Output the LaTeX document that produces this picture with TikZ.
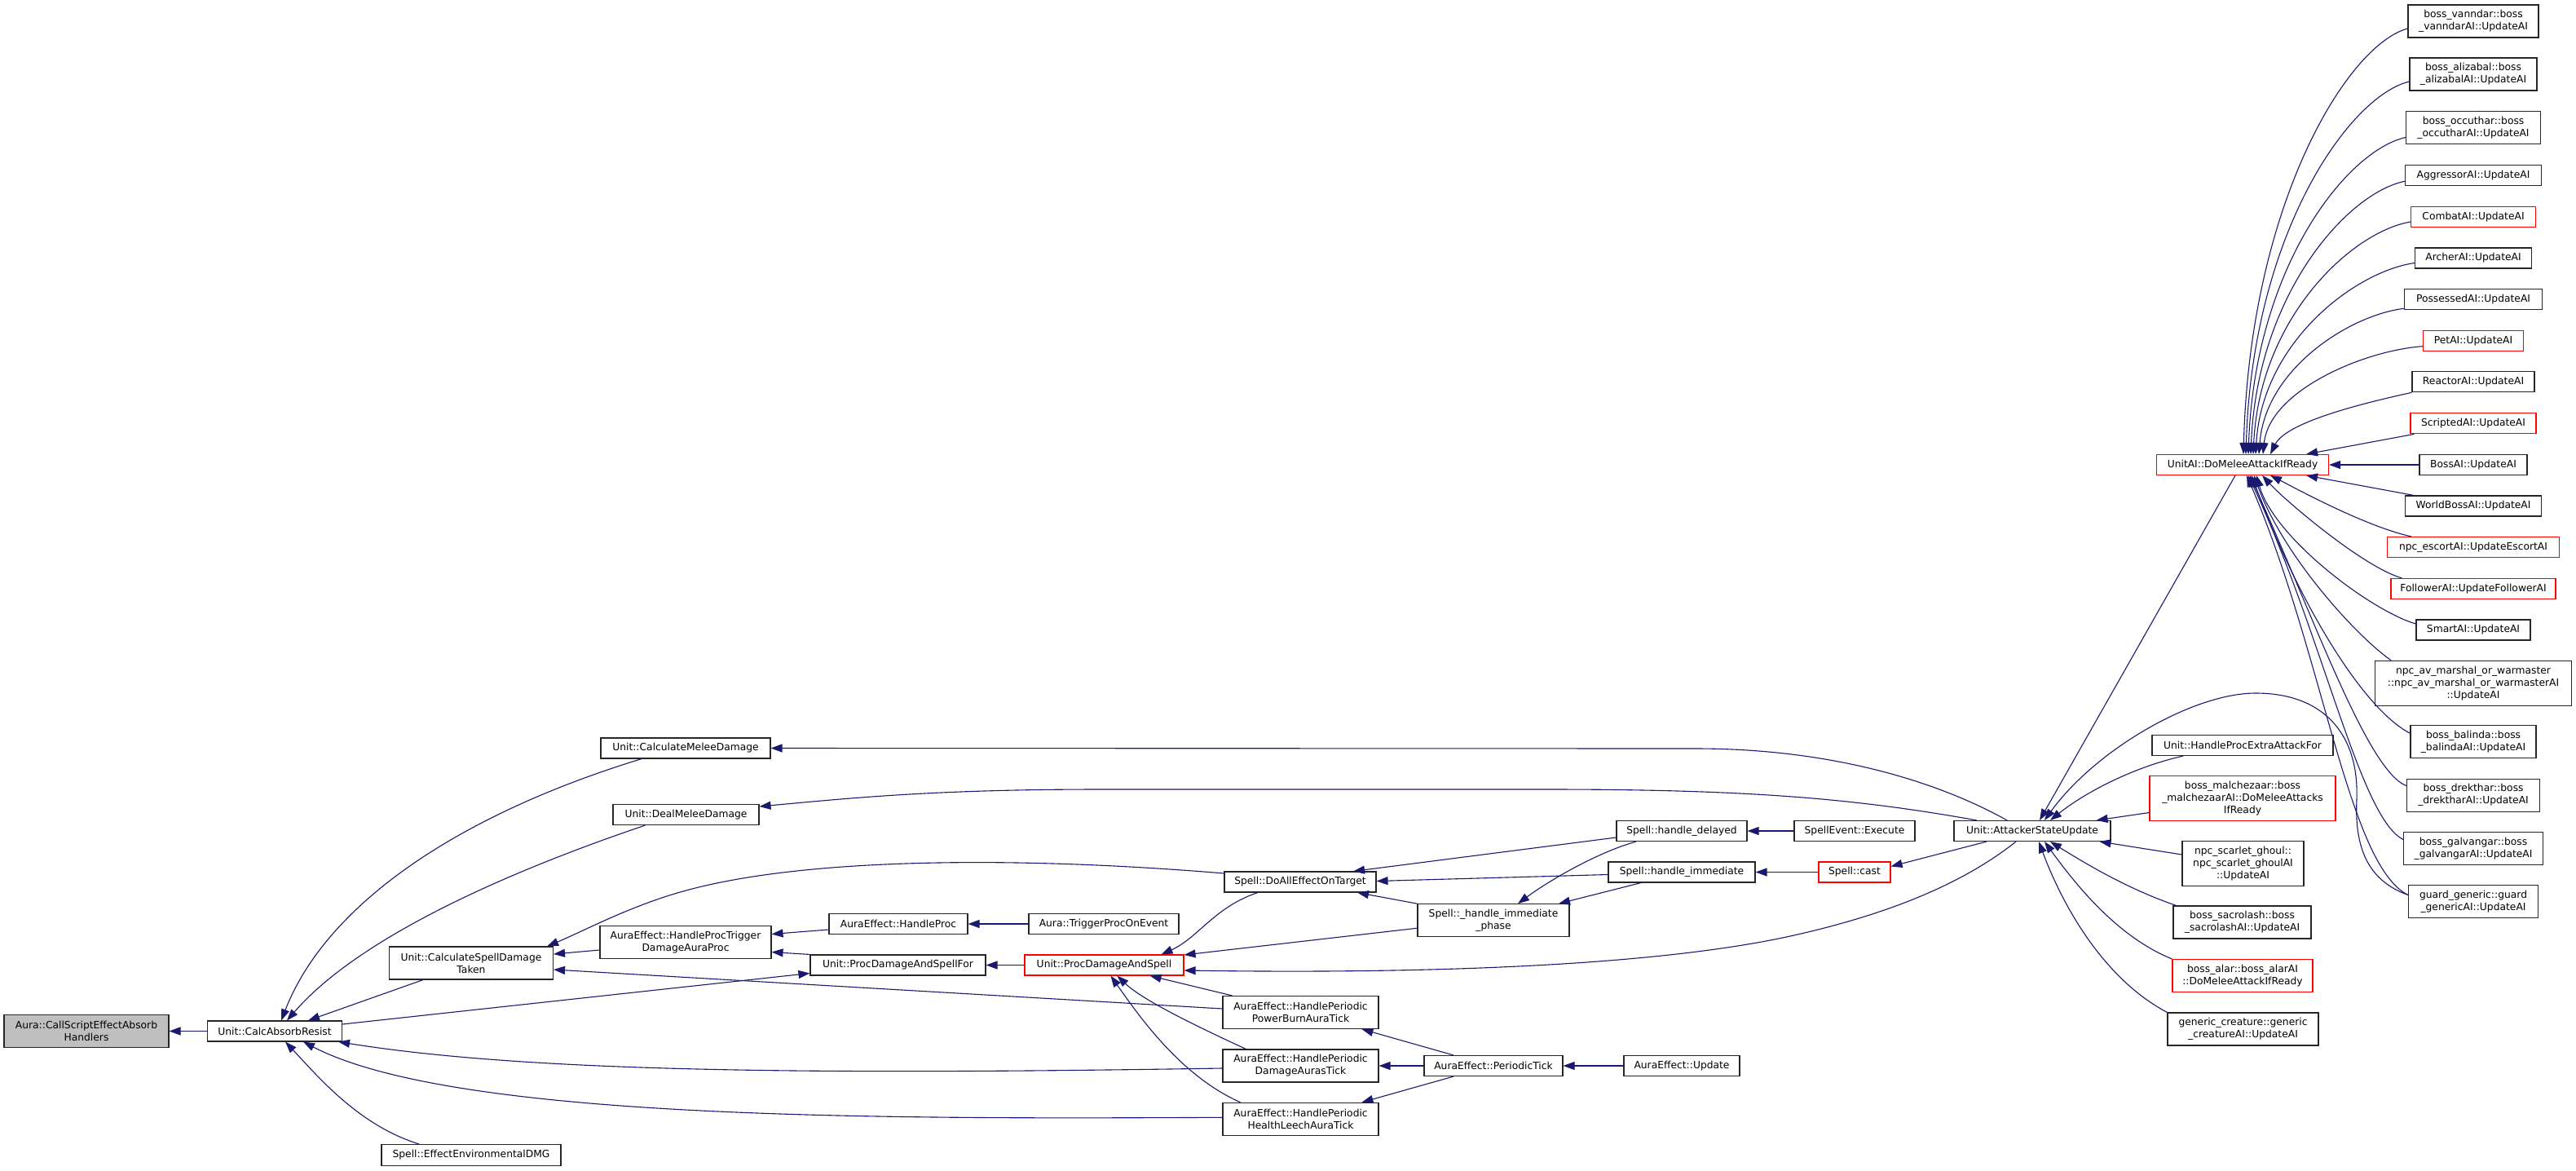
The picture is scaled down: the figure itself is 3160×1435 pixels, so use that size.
\documentclass[tikz,border=0pt]{standalone}
\usepackage{fontspec}
\setmainfont{DejaVu Sans}
\usetikzlibrary{arrows.meta}
\definecolor{edgeblue}{HTML}{191970}
\definecolor{rootgray}{HTML}{BFBFBF}
\definecolor{boxline}{HTML}{262626}
\tikzset{
  box/.style={draw=boxline, line width=1.1pt, fill=white, inner sep=0pt, align=center, font=\fontsize{12.3}{15}\selectfont},
  redbox/.style={box, draw=red},
  sz/.style 2 args={minimum width=#1, minimum height=#2},
  edge/.style={draw=edgeblue, line width=1.1pt, -{Triangle[length=14pt,width=10pt]}},
}
\begin{document}
\begin{tikzpicture}[x=1pt,y=-1pt]
\useasboundingbox (0,0) rectangle (3160,1435);
\fill[white] (0,0) rectangle (3160,1435);

% ---------- nodes ----------
\node[box, sz={202}{40}, fill=rootgray] (aura) at (106,1264.5) {Aura::CallScriptEffectAbsorb\\Handlers};
\node[box, sz={165}{25}] (calc) at (337,1264.5) {Unit::CalcAbsorbResist};
\node[box, sz={208}{25}] (cmd) at (841,917.5) {Unit::CalculateMeleeDamage};
\node[box, sz={179}{25}] (dmd) at (841.5,999) {Unit::DealMeleeDamage};
\node[box, sz={201}{40}] (csdt) at (578,1181) {Unit::CalculateSpellDamage\\Taken};
\node[box, sz={220}{26}] (env) at (578,1416.5) {Spell::EffectEnvironmentalDMG};
\node[box, sz={210}{40}] (hptd) at (841,1155.5) {AuraEffect::HandleProcTrigger\\DamageAuraProc};
\node[box, sz={170}{25}] (hproc) at (1102,1133) {AuraEffect::HandleProc};
\node[box, sz={184}{25}] (tpoe) at (1354,1133) {Aura::TriggerProcOnEvent};
\node[box, sz={215}{25}] (pdsf) at (1101.5,1183.5) {Unit::ProcDamageAndSpellFor};
\node[redbox, sz={195}{25}] (pds) at (1354.5,1183.5) {Unit::ProcDamageAndSpell};
\node[box, sz={186}{25}] (daeot) at (1595,1081.5) {Spell::DoAllEffectOnTarget};
\node[box, sz={160}{25}] (hdel) at (2063,1019) {Spell::handle\_delayed};
\node[box, sz={148}{25}] (see) at (2275,1019) {SpellEvent::Execute};
\node[box, sz={180}{25}] (himm) at (2063,1069.5) {Spell::handle\_immediate};
\node[redbox, sz={88}{25}] (cast) at (2275,1069.5) {Spell::cast};
\node[box, sz={186}{40}] (hip) at (1832,1128.7) {Spell::\_handle\_immediate\\\_phase};
\node[box, sz={191}{40}] (pbat) at (1595.5,1241.5) {AuraEffect::HandlePeriodic\\PowerBurnAuraTick};
\node[box, sz={191}{40}] (dat) at (1595.5,1307) {AuraEffect::HandlePeriodic\\DamageAurasTick};
\node[box, sz={191}{40}] (hlat) at (1595.5,1372.3) {AuraEffect::HandlePeriodic\\HealthLeechAuraTick};
\node[box, sz={170}{25}] (ptick) at (1832,1307) {AuraEffect::PeriodicTick};
\node[box, sz={142}{25}] (aeupd) at (2063,1307) {AuraEffect::Update};
\node[box, sz={192}{25}] (asu) at (2493,1019) {Unit::AttackerStateUpdate};
\node[box, sz={222}{25}] (hpeaf) at (2751,914) {Unit::HandleProcExtraAttackFor};
\node[redbox, sz={228}{55}] (malch) at (2751,979) {boss\_malchezaar::boss\\\_malchezaarAI::DoMeleeAttacks\\IfReady};
\node[box, sz={149}{55}] (scarlet) at (2751.5,1059) {npc\_scarlet\_ghoul::\\npc\_scarlet\_ghoulAI\\::UpdateAI};
\node[box, sz={169}{40}] (sacro) at (2750.5,1131) {boss\_sacrolash::boss\\\_sacrolashAI::UpdateAI};
\node[redbox, sz={172}{40}] (alar) at (2751,1196.5) {boss\_alar::boss\_alarAI\\::DoMeleeAttackIfReady};
\node[box, sz={185}{40}] (gencr) at (2751.5,1262) {generic\_creature::generic\\\_creatureAI::UpdateAI};
\node[redbox, sz={211}{25}] (dmaiir) at (2751,570) {UnitAI::DoMeleeAttackIfReady};

\node[box, sz={160}{40}] (vanndar) at (3034,26) {boss\_vanndar::boss\\\_vanndarAI::UpdateAI};
\node[box, sz={156}{40}] (alizabal) at (3034,91) {boss\_alizabal::boss\\\_alizabalAI::UpdateAI};
\node[box, sz={165}{40}] (occuthar) at (3034,156.5) {boss\_occuthar::boss\\\_occutharAI::UpdateAI};
\node[box, sz={167}{25}] (aggr) at (3034,215.3) {AggressorAI::UpdateAI};
\node[redbox, sz={152.5}{25}] (combat) at (3034,266) {CombatAI::UpdateAI};
\node[box, sz={143}{25}] (archer) at (3034,316.5) {ArcherAI::UpdateAI};
\node[box, sz={169}{25}] (possessed) at (3034,367.3) {PossessedAI::UpdateAI};
\node[redbox, sz={123}{25}] (pet) at (3034,417.7) {PetAI::UpdateAI};
\node[box, sz={150}{25}] (reactor) at (3034,468.3) {ReactorAI::UpdateAI};
\node[redbox, sz={154}{25}] (scripted) at (3034,519.3) {ScriptedAI::UpdateAI};
\node[box, sz={132}{25}] (bossai) at (3034,570) {BossAI::UpdateAI};
\node[box, sz={167}{25}] (worldboss) at (3034,620.5) {WorldBossAI::UpdateAI};
\node[redbox, sz={211}{25}] (escort) at (3034,671) {npc\_escortAI::UpdateEscortAI};
\node[redbox, sz={202}{25}] (follower) at (3034,722) {FollowerAI::UpdateFollowerAI};
\node[box, sz={140}{25}] (smart) at (3034,772.5) {SmartAI::UpdateAI};
\node[box, sz={241}{55}] (marshal) at (3034,837.7) {npc\_av\_marshal\_or\_warmaster\\::npc\_av\_marshal\_or\_warmasterAI\\::UpdateAI};
\node[box, sz={154}{40}] (balinda) at (3034,909.7) {boss\_balinda::boss\\\_balindaAI::UpdateAI};
\node[box, sz={163}{40}] (drekthar) at (3034,975.2) {boss\_drekthar::boss\\\_drektharAI::UpdateAI};
\node[box, sz={171}{40}] (galvangar) at (3034,1040.7) {boss\_galvangar::boss\\\_galvangarAI::UpdateAI};
\node[box, sz={159}{40}] (guard) at (3034,1105.9) {guard\_generic::guard\\\_genericAI::UpdateAI};

% ---------- edges (tail at caller, head at callee) ----------
\draw[edge] (calc.west) -- (aura.east);
\draw[edge] ([xshift=-54]cmd.south) .. controls (560,1000) and (400,1110) .. ([xshift=8]calc.north);
\draw[edge] ([xshift=-50]dmd.south) .. controls (620,1070) and (440,1150) .. ([xshift=15]calc.north);
\draw[edge] ([xshift=-59]csdt.south) -- ([xshift=41]calc.north);
\draw[edge] ([yshift=-3]dat.west) .. controls (1000,1318) and (650,1315) .. ([xshift=-5]calc.south east);
\draw[edge] ([yshift=2]hlat.west) .. controls (1100,1372) and (560,1375) .. ([xshift=35]calc.south);
\draw[edge] ([xshift=-64]env.north) .. controls (440,1380) and (390,1320) .. ([xshift=13]calc.south);
\draw[edge] ([yshift=8.5]calc.east) -- ([yshift=-10]pdsf.west);

\draw[edge] ([yshift=10.5]daeot.west) .. controls (1250,1050) and (1000,1052) .. (853,1089)
   .. controls (780,1107) and (720,1140) .. ([xshift=-8]csdt.north east);
\draw[edge] ([yshift=-9.5]hptd.west) -- ([yshift=11]csdt.east);
\draw[edge] ([yshift=4.5]pbat.west) -- ([yshift=-8]csdt.east);
\draw[edge] ([yshift=-7]hproc.west) -- ([yshift=10]hptd.east);
\draw[edge] (tpoe.west) -- (hproc.east);
\draw[edge] (pdsf.north west) -- ([yshift=-12]hptd.east);
\draw[edge] (pds.west) -- (pdsf.east);

\draw[edge] ([xshift=-52]daeot.south) .. controls (1490,1112) and (1470,1150) .. ([xshift=70]pds.north);
\draw[edge] ([yshift=-9.5]hip.west) -- ([yshift=12.5]pds.east);
\draw[edge] ([xshift=-20]asu.south) .. controls (2400,1090) and (2300,1125) .. (2196,1148)
   .. controls (2050,1180) and (1800,1195) .. ([yshift=-6.5]pds.east);
\draw[edge] ([xshift=-84]pbat.north) -- ([xshift=-42]pds.south east);
\draw[edge] ([xshift=-67]dat.north) .. controls (1460,1255) and (1400,1225) .. ([xshift=16]pds.south);
\draw[edge] ([xshift=-74]hlat.north) .. controls (1450,1320) and (1400,1250) .. ([xshift=8]pds.south);

\draw[edge] ([yshift=-8]hdel.west) -- ([xshift=65]daeot.north);
\draw[edge] ([yshift=-3]himm.west) -- ([yshift=1]daeot.east);
\draw[edge] (hip.north west) -- ([xshift=70]daeot.south);
\draw[edge] (see.west) -- (hdel.east);
\draw[edge] (cast.west) -- (himm.east);
\draw[edge] ([xshift=-56]asu.south) -- ([yshift=7]cast.east);
\draw[edge] ([xshift=-56]hdel.south) .. controls (1960,1045) and (1900,1080) .. ([xshift=30]hip.north);
\draw[edge] ([xshift=-50]himm.south) -- ([xshift=80]hip.north);
\draw[edge] ([xshift=-49]ptick.north) -- ([xshift=75]pbat.south);
\draw[edge] (ptick.west) -- (dat.east);
\draw[edge] ([xshift=-49]ptick.south) -- ([xshift=75]hlat.north);
\draw[edge] (aeupd.west) -- (ptick.east);

\draw[edge] ([xshift=-31]asu.north) .. controls (2380,960) and (2250,918) .. (2080,918) -- (cmd.east);
\draw[edge] ([xshift=-68]asu.north) .. controls (2280,980) and (2150,968) .. (1900,968) -- (1350,968)
   .. controls (1150,968) and (1050,978) .. ([yshift=10]dmd.east);

\draw[edge] ([xshift=-9]dmaiir.south) -- ([xshift=9]asu.north);
\draw[edge] ([xshift=-73]hpeaf.south) .. controls (2620,940) and (2560,970) .. ([xshift=22]asu.north);
\draw[edge] ([yshift=8.4]guard.west) .. controls (2905,1080) and (2888,1040) .. (2891,980)
   .. controls (2894,900) and (2850,850) .. (2767,850)
   .. controls (2690,850) and (2570,920) .. ([xshift=15]asu.north);
\draw[edge] ([yshift=-17.5]malch.west) -- ([xshift=-18]asu.north east);
\draw[edge] ([yshift=11]scarlet.west) -- ([xshift=-14]asu.south east);
\draw[edge] ([xshift=4]sacro.north west) .. controls (2610,1090) and (2560,1060) .. ([xshift=22]asu.south);
\draw[edge] (alar.north west) .. controls (2600,1150) and (2550,1090) .. ([xshift=15]asu.south);
\draw[edge] (gencr.north west) .. controls (2580,1200) and (2530,1110) .. ([xshift=8]asu.south);

% fan-in to UnitAI::DoMeleeAttackIfReady
\draw[edge] ([yshift=-9]vanndar.west) .. controls +(-74,20) and +(8,-307) .. ([xshift=1]dmaiir.north);
\draw[edge] ([yshift=-9]alizabal.west) .. controls +(-74,18) and +(8,-270) .. ([xshift=4]dmaiir.north);
\draw[edge] ([yshift=-12]occuthar.west) .. controls +(-72,16) and +(8,-230) .. ([xshift=7]dmaiir.north);
\draw[edge] ([yshift=-7]aggr.west) .. controls +(-70,14) and +(8,-197) .. ([xshift=10]dmaiir.north);
\draw[edge] ([yshift=-6]combat.west) .. controls +(-72,12) and +(8,-168) .. ([xshift=13]dmaiir.north);
\draw[edge] ([yshift=-6]archer.west) .. controls +(-72,10) and +(8,-138) .. ([xshift=16]dmaiir.north);
\draw[edge] ([yshift=-11]possessed.west) .. controls +(-66,8) and +(8,-105) .. ([xshift=20]dmaiir.north);
\draw[edge] ([yshift=-7]pet.west) .. controls +(-72,5) and +(8,-78) .. ([xshift=25]dmaiir.north);
\draw[edge] (reactor.south west) .. controls +(-55,12) and +(20,-40) .. ([xshift=34]dmaiir.north);
\draw[edge] ([xshift=5]scripted.south west) -- ([xshift=-28]dmaiir.north east);
\draw[edge] (bossai.west) -- (dmaiir.east);
\draw[edge] ([xshift=11]worldboss.north west) -- ([xshift=-28]dmaiir.south east);
\draw[edge] ([xshift=30]escort.north west) .. controls +(-58,-12.7) and +(25,12.5) .. ([xshift=34]dmaiir.south);
\draw[edge] ([xshift=14]follower.north west) .. controls +(-46.7,-13.3) and +(30,32.5) .. ([xshift=24]dmaiir.south);
\draw[edge] ([yshift=7.5]smart.west) .. controls +(-53,-15) and +(22,77.5) .. ([xshift=17]dmaiir.south);
\draw[edge] ([xshift=20]marshal.north west) .. controls +(-43,-30) and +(35,97.5) .. ([xshift=14]dmaiir.south);
\draw[edge] ([yshift=10.5]balinda.west) .. controls +(-57,-29) and +(58,157.5) .. ([xshift=11]dmaiir.south);
\draw[edge] ([yshift=11.5]drekthar.west) .. controls +(-48,-19) and +(80,177.5) .. ([xshift=9]dmaiir.south);
\draw[edge] ([yshift=11.3]galvangar.west) .. controls +(-53,-26) and +(92,197.5) .. ([xshift=7]dmaiir.south);
\draw[edge] ([yshift=8.4]guard.west) .. controls +(-74,-37) and +(94,217.5) .. ([xshift=5]dmaiir.south);
\end{tikzpicture}
\end{document}
